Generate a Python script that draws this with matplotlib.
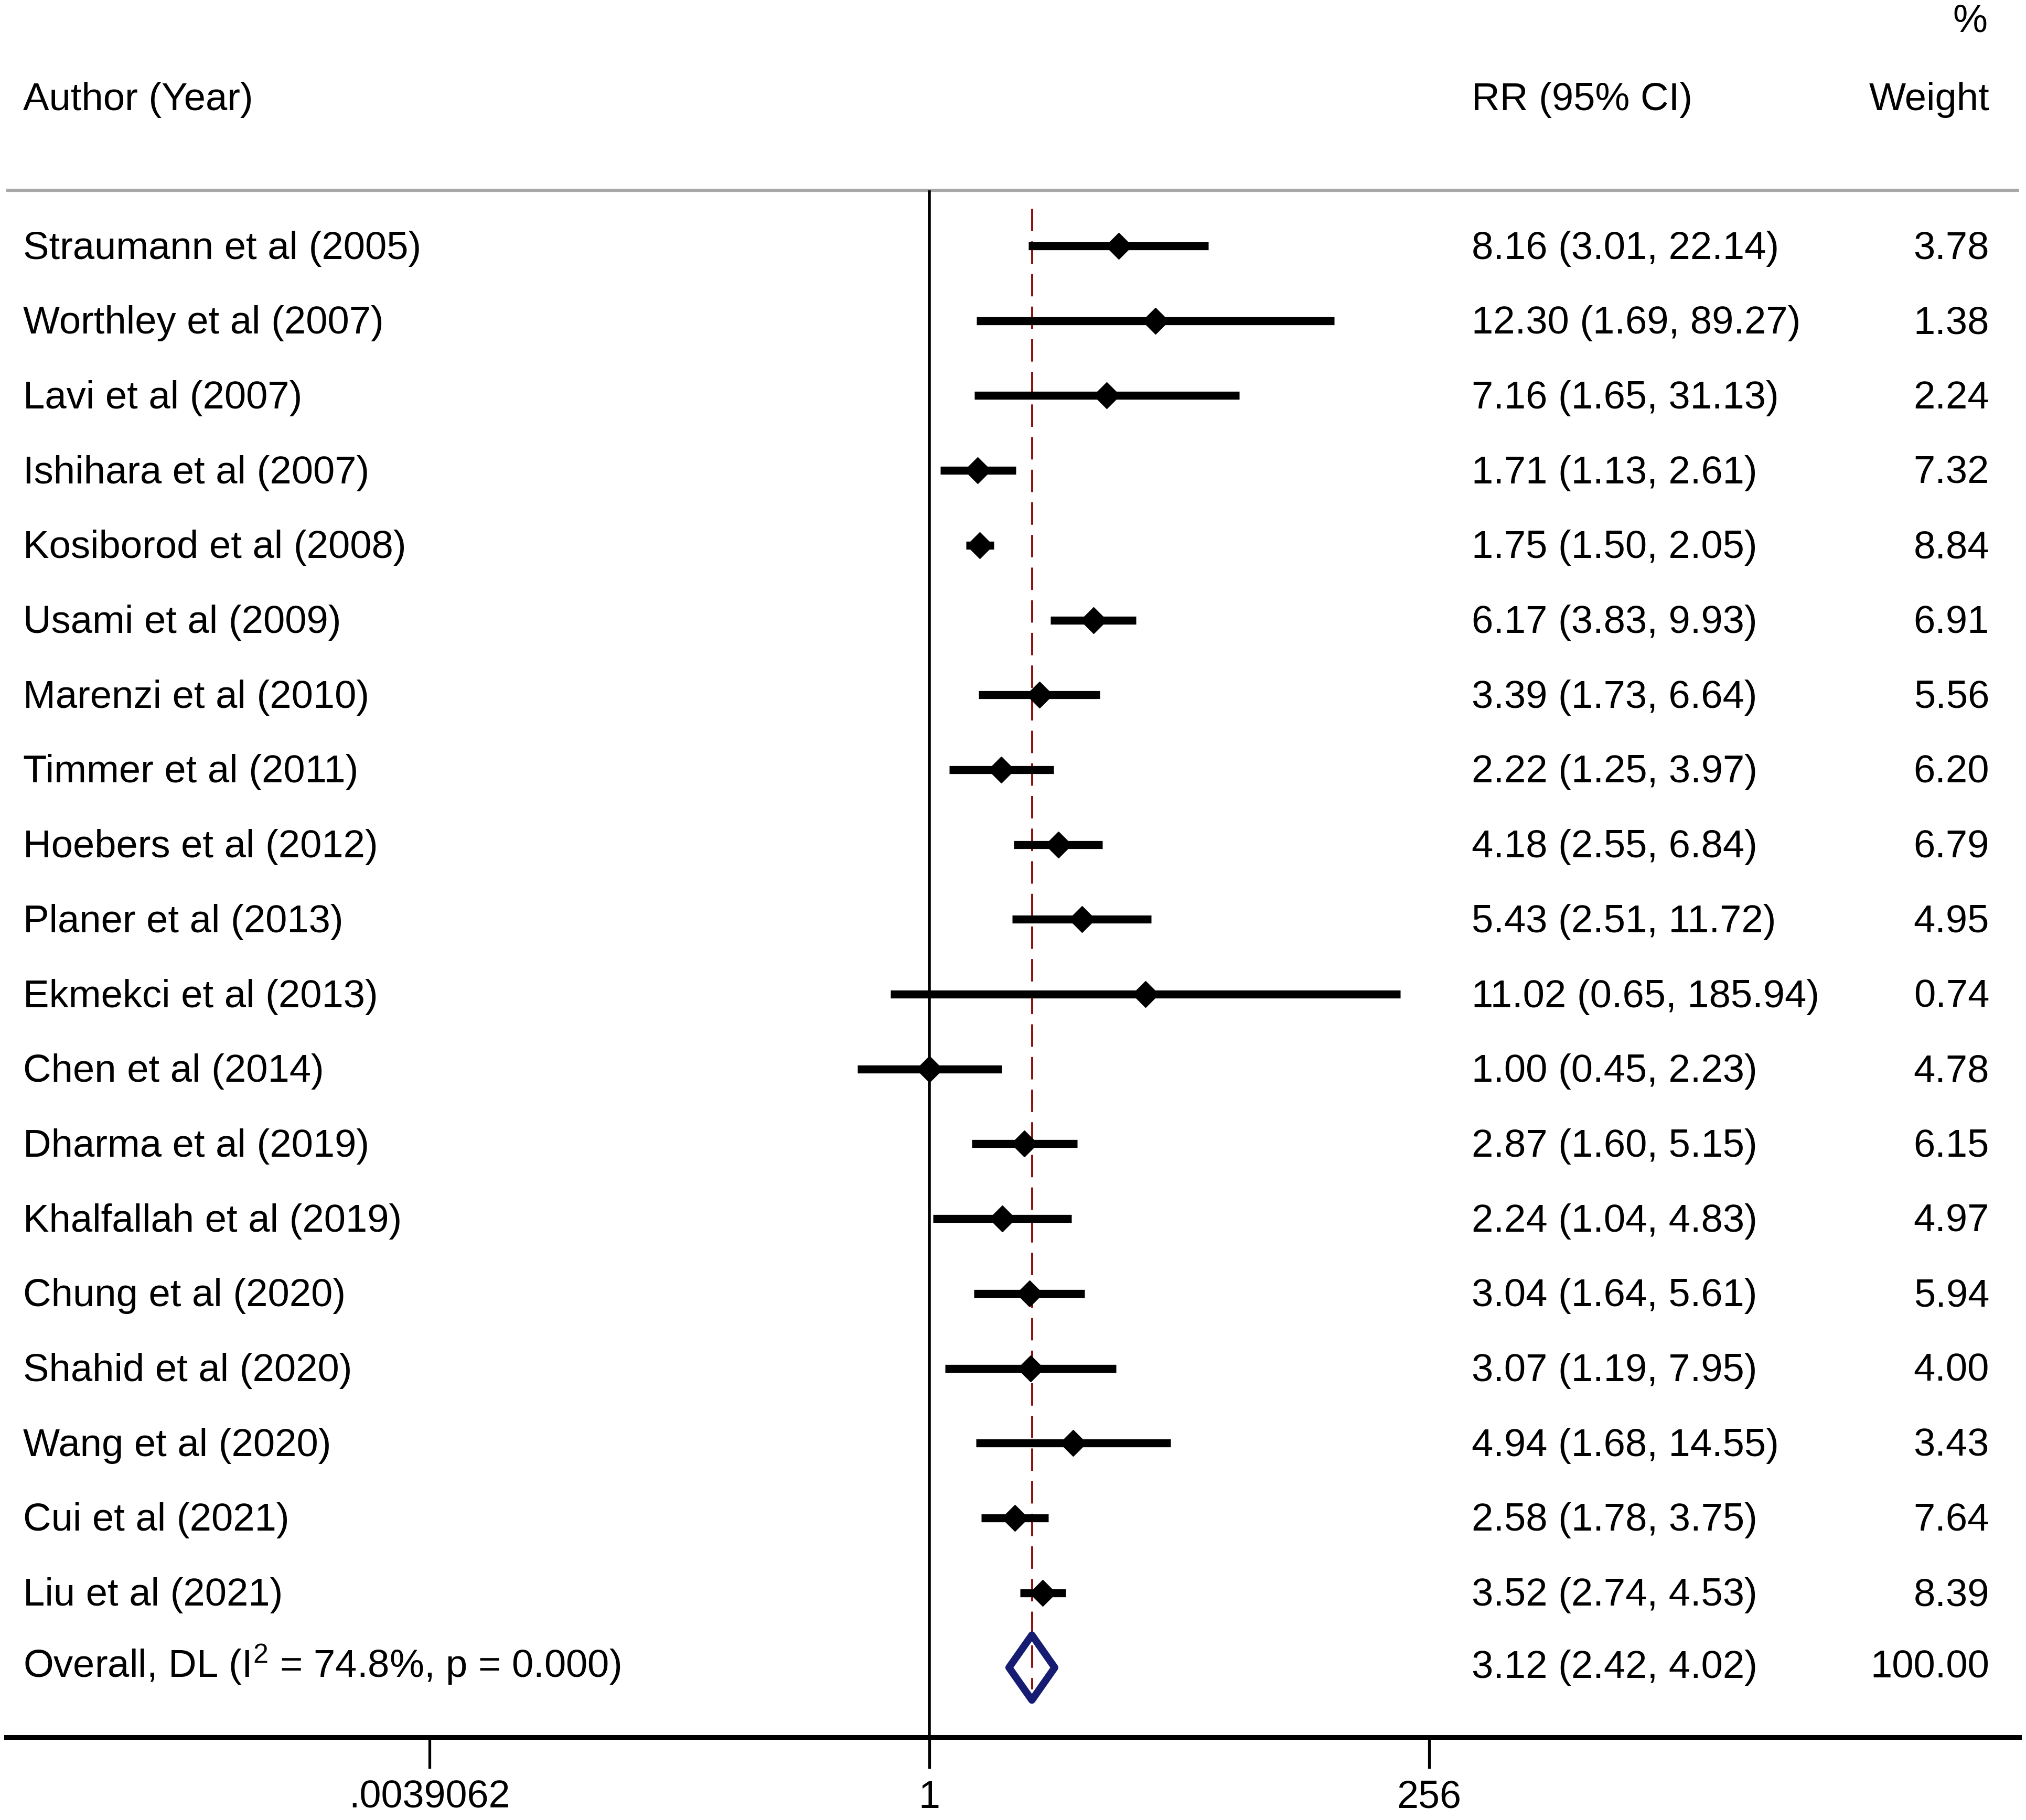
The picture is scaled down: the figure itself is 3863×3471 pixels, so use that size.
import numpy as np
import matplotlib
matplotlib.use("Agg")
import matplotlib.pyplot as plt
from matplotlib.patches import Polygon
from matplotlib.transforms import blended_transform_factory

plt.rcParams['font.family'] = ['Liberation Sans', 'DejaVu Sans']
plt.rcParams['mathtext.default'] = 'regular'

# study data
studies = ["Straumann et al (2005)", "Worthley et al (2007)", "Lavi et al (2007)",
           "Ishihara et al (2007)", "Kosiborod et al (2008)", "Usami et al (2009)",
           "Marenzi et al (2010)", "Timmer et al (2011)", "Hoebers et al (2012)",
           "Planer et al (2013)", "Ekmekci et al (2013)", "Chen et al (2014)",
           "Dharma et al (2019)", "Khalfallah et al (2019)", "Chung et al (2020)",
           "Shahid et al (2020)", "Wang et al (2020)", "Cui et al (2021)",
           "Liu et al (2021)"]
rr = [8.16, 12.30, 7.16, 1.71, 1.75, 6.17, 3.39, 2.22, 4.18, 5.43, 11.02, 1.00,
      2.87, 2.24, 3.04, 3.07, 4.94, 2.58, 3.52]
lower = [3.01, 1.69, 1.65, 1.13, 1.50, 3.83, 1.73, 1.25, 2.55, 2.51, 0.65, 0.45,
         1.60, 1.04, 1.64, 1.19, 1.68, 1.78, 2.74]
upper = [22.14, 89.27, 31.13, 2.61, 2.05, 9.93, 6.64, 3.97, 6.84, 11.72, 185.94,
         2.23, 5.15, 4.83, 5.61, 7.95, 14.55, 3.75, 4.53]
weight = [3.78, 1.38, 2.24, 7.32, 8.84, 6.91, 5.56, 6.20, 6.79, 4.95, 0.74, 4.78,
          6.15, 4.97, 5.94, 4.00, 3.43, 7.64, 8.39]

overall_label = "Overall, DL (I$^2$ = 74.8%, p = 0.000)"
overall_rr, overall_lo, overall_hi = 3.12, 2.42, 4.02
overall_weight = 100.00

tick_vals = [1 / 256, 1, 256]
tick_labels = [".0039062", "1", "256"]

W, H = 3863, 3471
fig = plt.figure(figsize=(W / 100, H / 100), dpi=100)
ax = fig.add_axes([12 / W, (H - 3313) / H, (3850 - 12) / W, 3313 / H])

ax.set_xscale('log', base=2)
ax.set_xlim(2 ** -14.78, 2 ** 17.45)
ax.set_ylim(19.93, -3.287)

for s in ['top', 'left', 'right']:
    ax.spines[s].set_visible(False)
ax.spines['bottom'].set_linewidth(6.5)
ax.set_yticks([])
ax.set_xticks(tick_vals)
ax.set_xticklabels(tick_labels)
ax.minorticks_off()
ax.tick_params(axis='x', length=43, width=3.8, direction='out', pad=15,
               labelsize=53, colors='black')

n = len(studies)
rows = np.arange(n)
orow = n

# header line and null line
ax.axhline(-0.743, color='#a8a8a8', lw=4.5)
ax.vlines(1, -0.743, 19.93, color='black', lw=4)

# overall line
ax.vlines(overall_rr, -0.5, orow + 0.52, color='#8b1010', lw=2.8,
          linestyles=(0, (11, 5)), zorder=1)

# CIs and point estimates
ax.hlines(rows, lower, upper, color='black', lw=11, zorder=2)
ax.plot(rr, rows, 'D', color='black', ms=25, zorder=3)

# overall diamond
h = 0.435
dia = Polygon([(overall_lo, orow), (overall_rr, orow - h), (overall_hi, orow),
               (overall_rr, orow + h)], closed=True, facecolor='white',
              edgecolor='#161c72', lw=10, joinstyle='round', zorder=2)
ax.add_patch(dia)
ax.vlines(overall_rr, orow - h + 0.14, orow + h - 0.14, color='#8b1010', lw=2.8,
          linestyles=(0, (11, 5)), zorder=3)

tr = blended_transform_factory(ax.transAxes, ax.transData)
fs = 53.5
dy = 0.035
xl = (44 - 12) / 3838
xr = (2806 - 12) / 3838
xw = (3793 - 12) / 3838

ax.text(xl, -1.99 + dy, "Author (Year)", transform=tr, fontsize=fs, va='center')
ax.text(xr, -1.99 + dy, "RR (95% CI)", transform=tr, fontsize=fs, va='center')
ax.text(xw, -1.99 + dy, "Weight", transform=tr, fontsize=fs, va='center', ha='right')
ax.text(xw - 0.001, -3.0, "%", transform=tr, fontsize=fs, va='center', ha='right')

for i in range(n):
    ax.text(xl, i + dy, studies[i], transform=tr, fontsize=fs, va='center')
    ax.text(xr, i + dy, f"{rr[i]:.2f} ({lower[i]:.2f}, {upper[i]:.2f})", transform=tr,
            fontsize=fs, va='center')
    ax.text(xw, i + dy, f"{weight[i]:.2f}", transform=tr, fontsize=fs, va='center',
            ha='right')

ax.text(xl, orow - 0.04, overall_label, transform=tr, fontsize=fs, va='center')
ax.text(xr, orow, f"{overall_rr:.2f} ({overall_lo:.2f}, {overall_hi:.2f})",
        transform=tr, fontsize=fs, va='center')
ax.text(xw, orow, f"{overall_weight:.2f}", transform=tr, fontsize=fs,
        va='center', ha='right')

fig.savefig("out.png", dpi=100)
